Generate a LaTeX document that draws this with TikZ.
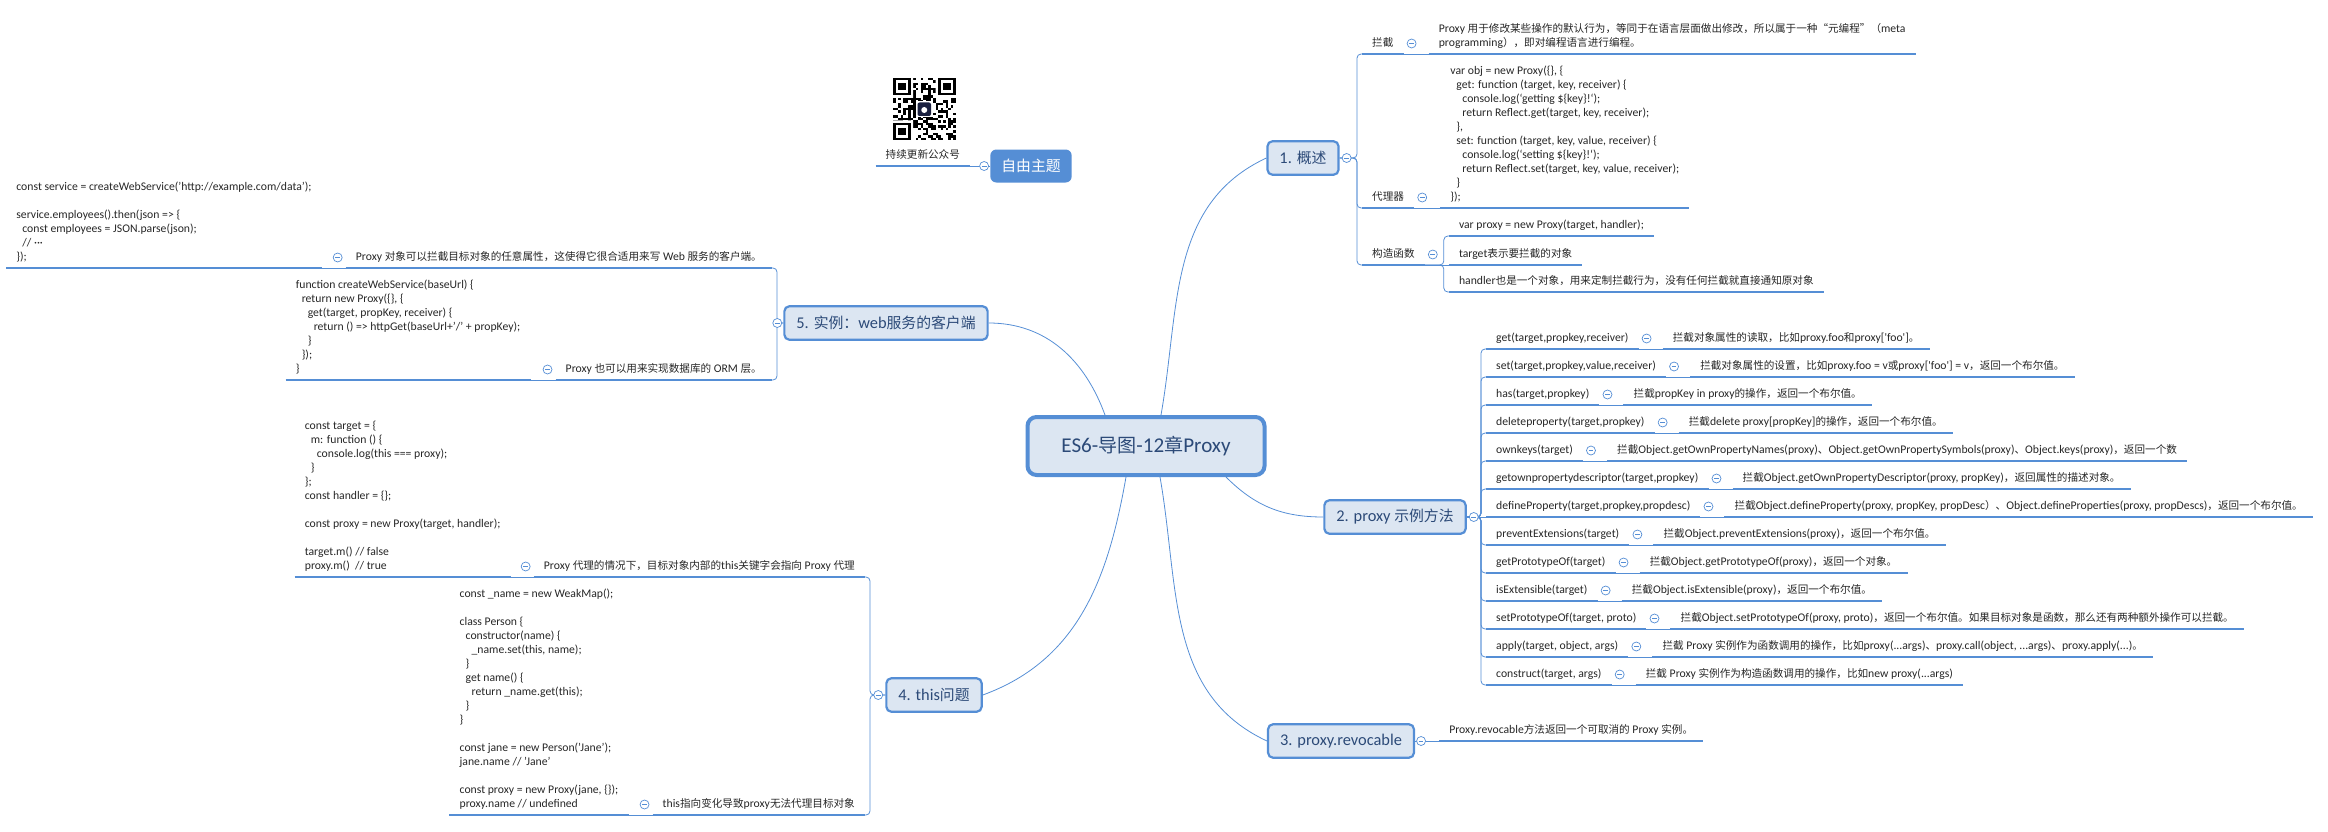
\documentclass[tikz,border=0pt]{standalone}
\usepackage{fontspec}
\usetikzlibrary{positioning}
\setmainfont{Carlito}[Scale=1.17]
\newfontfamily\latinfont[Scale=1.17]{Carlito}
\newfontfamily\cjkfont[Scale=1.06]{Noto Sans CJK SC}
% Han characters and full-width punctuation go to the CJK font
\XeTeXinterchartokenstate=1
\newXeTeXintercharclass\cjkclass
\newcount\cjkc
\def\setcjkrange#1#2{\cjkc=#1 \loop\XeTeXcharclass\cjkc=\cjkclass \advance\cjkc by 1 \ifnum\cjkc<#2 \repeat}
\setcjkrange{"3000}{"3040}
\setcjkrange{"4E00}{"A000}
\setcjkrange{"FF00}{"FFF0}
\XeTeXcharclass"201C=\cjkclass
\XeTeXcharclass"201D=\cjkclass
\XeTeXinterchartoks 0 \cjkclass={\cjkfont}
\XeTeXinterchartoks 4095 \cjkclass={\cjkfont}
\XeTeXinterchartoks \cjkclass 0={\latinfont}
\XeTeXinterchartoks \cjkclass 4095={\latinfont}

\definecolor{xblue}{HTML}{558ED5}
\definecolor{xfill}{HTML}{DCE6F2}
\definecolor{xtitle}{HTML}{2C4A78}
\definecolor{xtext}{HTML}{262626}
\definecolor{qrlogo}{HTML}{1B2140}
\newcommand\ind{\hspace*{6pt}}

\tikzset{
  root/.style={draw=xblue, line width=4pt, fill=xfill, rounded corners=9pt, minimum width=237pt,
    minimum height=58pt, text=xtitle, font=\fontsize{18}{22}\selectfont},
  branch/.style={draw=xblue, line width=2.2pt, fill=xfill, rounded corners=5pt, minimum height=33.5pt,
    inner xsep=12pt, text=xtitle, font=\fontsize{14}{17}\selectfont},
  free/.style={fill=xblue, rounded corners=6pt, minimum height=33pt, inner xsep=11pt, text=white,
    font=\fontsize{14}{17}\selectfont},
  leaf/.style={inner xsep=10pt, inner ysep=3.5pt, text depth=3.5pt, align=left, text=xtext,
    font=\fontsize{10}{14}\selectfont},
  uline/.style={draw=xblue, line width=2.6pt},
  conn/.style={draw=xblue, line width=0.8pt, rounded corners=4pt},
  fold/.style={circle, draw=xblue, fill=white, line width=0.7pt, minimum size=9pt, inner sep=0pt,
    path picture={\draw[xblue, line width=0.7pt] ([xshift=-2.4pt]path picture bounding box.center)
      -- ([xshift=2.4pt]path picture bounding box.center);}}
}

\begin{document}
\begin{tikzpicture}[x=1pt,y=-1pt]
\useasboundingbox (0,0) rectangle (2328,832);

\node[root] (root) at (1146,446) {ES6-导图-12章Proxy};

\node[branch] (b1) at (1303,158) {1. 概述};
\node[branch] (b2) at (1395,517) {2. proxy 示例方法};
\node[branch] (b3) at (1341,741) {3. proxy.revocable};
\node[branch] (b4) at (934,695) {4. this问题};
\node[branch] (b5) at (886,323) {5. 实例：web服务的客户端};
\node[free] (free) at (1031,166) {自由主题};

% 1. 概述
\node[leaf, anchor=south west] (lanjie) at (1362,54) {拦截};
\node[leaf, anchor=south west] (lanjiet) at ([xshift=25pt]lanjie.south east)
  {Proxy 用于修改某些操作的默认行为，等同于在语言层面做出修改，所以属于一种“元编程”（meta\\programming），即对编程语言进行编程。};
\node[leaf, anchor=south west] (dlq) at (1362,208) {代理器};
\node[leaf, anchor=south west] (dlqcode) at ([xshift=26pt]dlq.south east)
  {var obj = new Proxy(\{\}, \{\\
   \ind get: function (target, key, receiver) \{\\
   \ind\ind console.log(`getting \$\{key\}!{}`);\\
   \ind\ind return Reflect.get(target, key, receiver);\\
   \ind \},\\
   \ind set: function (target, key, value, receiver) \{\\
   \ind\ind console.log(`setting \$\{key\}!{}`);\\
   \ind\ind return Reflect.set(target, key, value, receiver);\\
   \ind \}\\
   \});};
\node[leaf, anchor=south west] (gz) at (1362,265) {构造函数};
\node[leaf, anchor=south west] (gz1) at ([shift={(24pt,29pt)}]gz.south east) {var proxy = new Proxy(target, handler);};
\node[leaf, anchor=south west] (gz2) at ([xshift=24pt]gz.south east) {target表示要拦截的对象};
\node[leaf, anchor=south west] (gz3) at ([shift={(24pt,-27pt)}]gz.south east) {handler也是一个对象，用来定制拦截行为，没有任何拦截就直接通知原对象};

% 2. proxy 示例方法
\node[leaf, anchor=south west] (get) at (1486,349) {get(target,propkey,receiver)};
\node[leaf, anchor=south west] (set) at ([yshift=-28pt]get.south west) {set(target,propkey,value,receiver)};
\node[leaf, anchor=south west] (has) at ([yshift=-28pt]set.south west) {has(target,propkey)};
\node[leaf, anchor=south west] (del) at ([yshift=-28pt]has.south west) {deleteproperty(target,propkey)};
\node[leaf, anchor=south west] (own) at ([yshift=-28pt]del.south west) {ownkeys(target)};
\node[leaf, anchor=south west] (gopd) at ([yshift=-28pt]own.south west) {getownpropertydescriptor(target,propkey)};
\node[leaf, anchor=south west] (defp) at ([yshift=-28pt]gopd.south west) {defineProperty(target,propkey,propdesc)};
\node[leaf, anchor=south west] (pext) at ([yshift=-28pt]defp.south west) {preventExtensions(target)};
\node[leaf, anchor=south west] (gpo) at ([yshift=-28pt]pext.south west) {getPrototypeOf(target)};
\node[leaf, anchor=south west] (isext) at ([yshift=-28pt]gpo.south west) {isExtensible(target)};
\node[leaf, anchor=south west] (spo) at ([yshift=-28pt]isext.south west) {setPrototypeOf(target, proto)};
\node[leaf, anchor=south west] (apply) at ([yshift=-28pt]spo.south west) {apply(target, object, args)};
\node[leaf, anchor=south west] (cons) at ([yshift=-28pt]apply.south west) {construct(target, args)};

\node[leaf, anchor=south west] (dget) at ([xshift=24pt]get.south east) {拦截对象属性的读取，比如proxy.foo和proxy['foo']。};
\node[leaf, anchor=south west] (dset) at ([xshift=24pt]set.south east) {拦截对象属性的设置，比如proxy.foo = v或proxy['foo'] = v，返回一个布尔值。};
\node[leaf, anchor=south west] (dhas) at ([xshift=24pt]has.south east) {拦截propKey in proxy的操作，返回一个布尔值。};
\node[leaf, anchor=south west] (ddel) at ([xshift=24pt]del.south east) {拦截delete proxy[propKey]的操作，返回一个布尔值。};
\node[leaf, anchor=south west] (down) at ([xshift=24pt]own.south east) {拦截Object.getOwnPropertyNames(proxy)、Object.getOwnPropertySymbols(proxy)、Object.keys(proxy)，返回一个数};
\node[leaf, anchor=south west] (dgopd) at ([xshift=24pt]gopd.south east) {拦截Object.getOwnPropertyDescriptor(proxy, propKey)，返回属性的描述对象。};
\node[leaf, anchor=south west] (ddefp) at ([xshift=24pt]defp.south east) {拦截Object.defineProperty(proxy, propKey, propDesc）、Object.defineProperties(proxy, propDescs)，返回一个布尔值。};
\node[leaf, anchor=south west] (dpext) at ([xshift=24pt]pext.south east) {拦截Object.preventExtensions(proxy)，返回一个布尔值。};
\node[leaf, anchor=south west] (dgpo) at ([xshift=24pt]gpo.south east) {拦截Object.getPrototypeOf(proxy)，返回一个对象。};
\node[leaf, anchor=south west] (disext) at ([xshift=24pt]isext.south east) {拦截Object.isExtensible(proxy)，返回一个布尔值。};
\node[leaf, anchor=south west] (dspo) at ([xshift=24pt]spo.south east) {拦截Object.setPrototypeOf(proxy, proto)，返回一个布尔值。如果目标对象是函数，那么还有两种额外操作可以拦截。};
\node[leaf, anchor=south west] (dapply) at ([xshift=24pt]apply.south east) {拦截 Proxy 实例作为函数调用的操作，比如proxy(...args)、proxy.call(object, ...args)、proxy.apply(...)。};
\node[leaf, anchor=south west] (dcons) at ([xshift=24pt]cons.south east) {拦截 Proxy 实例作为构造函数调用的操作，比如new proxy(...args)};

% 3. proxy.revocable
\node[leaf, anchor=south west] (rev) at ([xshift=24pt]b3.east) {Proxy.revocable方法返回一个可取消的 Proxy 实例。};

% 4. this问题
\node[leaf, anchor=south east] (t4a) at (865,577) {Proxy 代理的情况下，目标对象内部的this关键字会指向 Proxy 代理};
\node[leaf, anchor=south east] (code4a) at ([xshift=-23pt]t4a.south west)
  {const target = \{\\
   \ind m: function () \{\\
   \ind\ind console.log(this === proxy);\\
   \ind \}\\
   \};\\
   const handler = \{\};\\[14pt]
   const proxy = new Proxy(target, handler);\\[14pt]
   target.m() // false\\
   proxy.m()\ \ // true};
\node[leaf, anchor=south east] (t4b) at (865,815) {this指向变化导致proxy无法代理目标对象};
\node[leaf, anchor=south east] (code4b) at ([xshift=-24pt]t4b.south west)
  {const \_name = new WeakMap();\\[14pt]
   class Person \{\\
   \ind constructor(name) \{\\
   \ind\ind \_name.set(this, name);\\
   \ind \}\\
   \ind get name() \{\\
   \ind\ind return \_name.get(this);\\
   \ind \}\\
   \}\\[14pt]
   const jane = new Person('Jane');\\
   jane.name // 'Jane'\\[14pt]
   const proxy = new Proxy(jane, \{\});\\
   proxy.name // undefined};

% 5. 实例
\node[leaf, anchor=south east] (t5a) at (772,268) {Proxy 对象可以拦截目标对象的任意属性，这使得它很合适用来写 Web 服务的客户端。};
\node[leaf, anchor=south east] (code5a) at ([xshift=-24pt]t5a.south west)
  {const service = createWebService('http://example.com/data');\\[14pt]
   service.employees().then(json => \{\\
   \ind const employees = JSON.parse(json);\\
   \ind // ···\\
   \});};
\node[leaf, anchor=south east] (t5b) at (772,380) {Proxy 也可以用来实现数据库的 ORM 层。};
\node[leaf, anchor=south east] (code5b) at ([xshift=-25pt]t5b.south west)
  {function createWebService(baseUrl) \{\\
   \ind return new Proxy(\{\}, \{\\
   \ind\ind get(target, propKey, receiver) \{\\
   \ind\ind\ind return () => httpGet(baseUrl+'/' + propKey);\\
   \ind\ind \}\\
   \ind \});\\
   \}};

% 自由主题
\node[leaf, anchor=south east] (gzh) at ([xshift=-20pt]free.west) {持续更新公众号};
\begin{scope}[shift={(893,78)}]
  \pgfmathsetseed{17}
  \foreach \i in {0,...,24}
    \foreach \j in {0,...,24}{
      \pgfmathrandominteger{\qbit}{0}{1}
      \ifnum\qbit=1 \fill (\i*2.5,\j*2.5) rectangle ++(2.5,2.5); \fi
    }
  \fill[white] (0,0) rectangle (20,20) (42.5,0) rectangle (62.5,20) (0,42.5) rectangle (20,62.5);
  \foreach \p in {(0,0),(45,0),(0,45)}{
    \fill \p rectangle ++(17.5,17.5);
    \fill[white] \p ++(2.5,2.5) rectangle ++(12.5,12.5);
    \fill \p ++(5,5) rectangle ++(7.5,7.5);
  }
  \fill[white] (23,23) rectangle (39.5,39.5);
  \fill[qrlogo, rounded corners=2pt] (24.5,24.5) rectangle (38,38);
  \fill[white] (31.25,32) circle (3);
\end{scope}

% underlines
\foreach \n in {lanjie,lanjiet,dlq,dlqcode,gz,gz1,gz2,gz3,get,set,has,del,own,gopd,defp,pext,gpo,isext,spo,apply,cons,
  dget,dset,dhas,ddel,down,dgopd,ddefp,dpext,dgpo,disext,dspo,dapply,dcons,rev,t4a,code4a,t4b,code4b,t5a,code5a,t5b,code5b,gzh}
  \draw[uline] (\n.south west) -- (\n.south east);

% connectors
\draw[conn] ([xshift=15pt]root.north) to[out=80,in=205] (b1.west);
\draw[conn] ([xshift=80pt]root.south) to[out=-45,in=180] (b2.west);
\draw[conn] ([xshift=14pt]root.south) to[out=-80,in=155] (b3.west);
\draw[conn] ([xshift=-20pt]root.south) to[out=-100,in=20] (b4.east);
\draw[conn] ([xshift=-41pt]root.north) to[out=110,in=0] (b5.east);

\foreach \n in {lanjie,dlq,gz}
  \draw[conn] (b1.east) -| ([xshift=-5pt]\n.south west) -- (\n.south west);
\draw[conn] (lanjie.south east) -- (lanjiet.south west);
\draw[conn] (dlq.south east) -- (dlqcode.south west);
\foreach \n in {gz1,gz3}
  \draw[conn] (gz.south east) -| ([xshift=-5pt]\n.south west) -- (\n.south west);
\draw[conn] (gz.south east) -- (gz2.south west);

\foreach \n in {get,set,has,del,own,gopd,pext,gpo,isext,spo,apply,cons}
  \draw[conn] (b2.east) -| ([xshift=-5pt]\n.south west) -- (\n.south west);
\draw[conn] (b2.east) -- (defp.south west);
\foreach \n in {get,set,has,del,own,gopd,defp,pext,gpo,isext,spo,apply,cons}
  \draw[conn] (\n.south east) -- (d\n.south west);

\draw[conn] (b3.east) -- (rev.south west);

\foreach \n in {t4a,t4b}
  \draw[conn] (b4.west) -| ([xshift=5pt]\n.south east) -- (\n.south east);
\draw[conn] (t4a.south west) -- (code4a.south east);
\draw[conn] (t4b.south west) -- (code4b.south east);

\foreach \n in {t5a,t5b}
  \draw[conn] (b5.west) -| ([xshift=5pt]\n.south east) -- (\n.south east);
\draw[conn] (t5a.south west) -- (code5a.south east);
\draw[conn] (t5b.south west) -- (code5b.south east);

\draw[conn] (free.west) -- (gzh.south east);

% fold marks
\node[fold] (f1) at ([xshift=7pt]b1.east) {};
\node[fold] (f2) at ([xshift=7pt]b2.east) {};
\node[fold] (f3) at ([xshift=6pt]b3.east) {};
\node[fold] (f4) at ([xshift=-7pt]b4.west) {};
\node[fold] (f5) at ([xshift=-6pt]b5.west) {};
\node[fold] (ffree) at ([xshift=-6pt]free.west) {};
\foreach \n in {lanjie,dlq,gz,get,set,has,del,own,gopd,defp,pext,gpo,isext,spo,apply,cons}
  \node[fold] (f-\n) at ([shift={(8pt,10.5pt)}]\n.south east) {};
\foreach \n in {t4a,t4b,t5a,t5b}
  \node[fold] (f-\n) at ([shift={(-8pt,10.5pt)}]\n.south west) {};
\end{tikzpicture}
\end{document}
